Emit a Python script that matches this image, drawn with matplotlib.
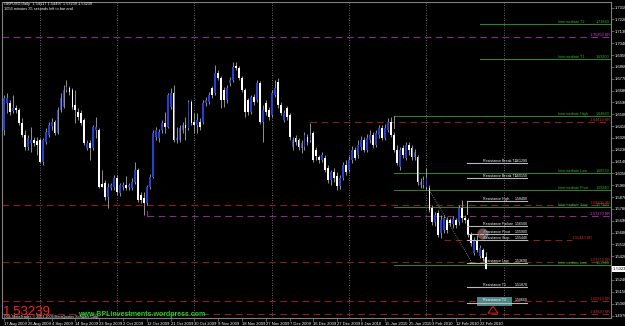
import matplotlib.pyplot as plt
import matplotlib.transforms as mtransforms
from matplotlib.patches import Rectangle, Ellipse
import numpy as np

plt.rcParams["font.family"] = ["Liberation Sans", "DejaVu Sans"]

# GBPUSD daily bars, 17 Aug 2009 -> 25 Feb 2010 (one bar every trading day incl. Sundays)
opens = [
    1.6380, 1.6585, 1.6585, 1.6524, 1.6547, 1.6532, 1.6433, 1.6342, 1.6251, 1.6281,
    1.6304, 1.6296, 1.6304, 1.6137, 1.6289, 1.6342, 1.6410, 1.6441, 1.6357, 1.6532,
    1.6555, 1.6684, 1.6699, 1.6684, 1.6570, 1.6517, 1.6509, 1.6456, 1.6243, 1.6281,
    1.6243, 1.6380, 1.6380, 1.5970, 1.5977, 1.5871, 1.5939, 1.5947, 1.6015, 1.5901,
    1.5947, 1.5962, 1.5947, 1.5939, 1.5985, 1.6076, 1.5886, 1.5863, 1.5825, 1.5947,
    1.6023, 1.6327, 1.6319, 1.6380, 1.6433, 1.6403, 1.6555, 1.6661, 1.6304, 1.6304,
    1.6380, 1.6418, 1.6395, 1.6593, 1.6441, 1.6418, 1.6441, 1.6441, 1.6585, 1.6593,
    1.6699, 1.6661, 1.6813, 1.6775, 1.6684, 1.6608, 1.6737, 1.6760, 1.6866, 1.6851,
    1.6775, 1.6684, 1.6608, 1.6517, 1.6631, 1.6608, 1.6737, 1.6441, 1.6585, 1.6532,
    1.6494, 1.6646, 1.6745, 1.6570, 1.6456, 1.6547, 1.6494, 1.6251, 1.6319, 1.6304,
    1.6243, 1.6251, 1.6327, 1.6304, 1.6357, 1.6228, 1.6175, 1.6152, 1.6167, 1.6091,
    1.6000, 1.6061, 1.6030, 1.5954, 1.6015, 1.6114, 1.6076, 1.6152, 1.6228, 1.6190,
    1.6251, 1.6304, 1.6228, 1.6304, 1.6342, 1.6266, 1.6342, 1.6395, 1.6319, 1.6380,
    1.6441, 1.6342, 1.6228, 1.6099, 1.6243, 1.6167, 1.6266, 1.6243, 1.6175,
    1.6175, 1.5962, 1.5962, 1.5947, 1.5939, 1.5787, 1.5681,
    1.5749, 1.5597, 1.5620, 1.5696, 1.5696, 1.5666,
    1.5696, 1.5681, 1.5787, 1.5711,
    1.5696, 1.5582, 1.5445, 1.5544, 1.5422, 1.5468, 1.54117,
]
highs = [
    1.6646, 1.6661, 1.6608, 1.6646, 1.6570, 1.6547, 1.6471, 1.6380, 1.6342, 1.6403,
    1.6327, 1.6327, 1.6319, 1.6319, 1.6395, 1.6441, 1.6471, 1.6456, 1.6555, 1.6661,
    1.6722, 1.6760, 1.6714, 1.6699, 1.6684, 1.6547, 1.6532, 1.6471, 1.6304, 1.6304,
    1.6418, 1.6479, 1.6395, 1.6076, 1.6000, 1.5977, 1.5977, 1.6038, 1.6038, 1.5977,
    1.5985, 1.6030, 1.5977, 1.6015, 1.6137, 1.6091, 1.5909, 1.5909, 1.5962, 1.6046,
    1.6380, 1.6403, 1.6388, 1.6456, 1.6517, 1.6661, 1.6699, 1.6722, 1.6403, 1.6418,
    1.6441, 1.6479, 1.6608, 1.6608, 1.6509, 1.6509, 1.6471, 1.6608, 1.6631, 1.6669,
    1.6714, 1.6874, 1.6836, 1.6790, 1.6707, 1.6722, 1.6783, 1.6897, 1.6897, 1.6866,
    1.6790, 1.6699, 1.6623, 1.6646, 1.6654, 1.6760, 1.6752, 1.6570, 1.6608, 1.6555,
    1.6684, 1.6760, 1.6775, 1.6593, 1.6532, 1.6562, 1.6509, 1.6327, 1.6342, 1.6319,
    1.6304, 1.6365, 1.6350, 1.6433, 1.6372, 1.6251, 1.6190, 1.6213, 1.6190, 1.6114,
    1.6076, 1.6091, 1.6061, 1.6038, 1.6137, 1.6152, 1.6182, 1.6258, 1.6251, 1.6304,
    1.6334, 1.6327, 1.6350, 1.6380, 1.6365, 1.6380, 1.6418, 1.6418, 1.6426, 1.6471,
    1.6479, 1.6365, 1.6266, 1.6251, 1.6266, 1.6289, 1.6289, 1.6266, 1.6236,
    1.6190, 1.6015, 1.6030, 1.6091, 1.5962, 1.5810, 1.5757,
    1.5772, 1.5734, 1.5734, 1.5719, 1.5711, 1.5727,
    1.5711, 1.5810, 1.5848, 1.5734,
    1.5711, 1.5605, 1.5567, 1.5582, 1.5506, 1.5483, 1.54497,
]
lows = [
    1.6342, 1.6509, 1.6494, 1.6509, 1.6509, 1.6418, 1.6327, 1.6228, 1.6228, 1.6213,
    1.6258, 1.6190, 1.6129, 1.6114, 1.6274, 1.6327, 1.6380, 1.6342, 1.6350, 1.6517,
    1.6547, 1.6669, 1.6646, 1.6540, 1.6433, 1.6456, 1.6418, 1.6266, 1.6228, 1.6152,
    1.6228, 1.6319, 1.5939, 1.5947, 1.5848, 1.5787, 1.5924, 1.5924, 1.5886, 1.5878,
    1.5924, 1.5924, 1.5924, 1.5924, 1.5970, 1.5833, 1.5825, 1.5734, 1.5810, 1.5932,
    1.6015, 1.6304, 1.6289, 1.6357, 1.6357, 1.6395, 1.6540, 1.6289, 1.6281, 1.6289,
    1.6357, 1.6304, 1.6380, 1.6418, 1.6357, 1.6357, 1.6380, 1.6426, 1.6562, 1.6577,
    1.6623, 1.6646, 1.6760, 1.6547, 1.6555, 1.6585, 1.6714, 1.6745, 1.6836, 1.6760,
    1.6669, 1.6479, 1.6494, 1.6502, 1.6570, 1.6593, 1.6426, 1.6289, 1.6494, 1.6456,
    1.6479, 1.6631, 1.6547, 1.6494, 1.6441, 1.6456, 1.6304, 1.6228, 1.6266, 1.6228,
    1.6205, 1.6228, 1.6266, 1.6289, 1.6137, 1.6152, 1.6129, 1.6137, 1.6061, 1.5977,
    1.5962, 1.5985, 1.5924, 1.5932, 1.6000, 1.6038, 1.6061, 1.6129, 1.6152, 1.6167,
    1.6228, 1.6213, 1.6213, 1.6281, 1.6243, 1.6251, 1.6319, 1.6304, 1.6304, 1.6365,
    1.6327, 1.6213, 1.6114, 1.6076, 1.6167, 1.6152, 1.6190, 1.6152, 1.6152,
    1.5962, 1.5939, 1.5939, 1.5924, 1.5757, 1.5658, 1.5650,
    1.5567, 1.5559, 1.5597, 1.5597, 1.5650, 1.5635,
    1.5635, 1.5658, 1.5681, 1.5673,
    1.5567, 1.5498, 1.5430, 1.5453, 1.5407, 1.5392, 1.53239,
]
closes = [
    1.6623, 1.6623, 1.6517, 1.6547, 1.6532, 1.6433, 1.6342, 1.6251, 1.6319, 1.6304,
    1.6281, 1.6266, 1.6137, 1.6304, 1.6365, 1.6418, 1.6441, 1.6357, 1.6532, 1.6623,
    1.6684, 1.6707, 1.6669, 1.6555, 1.6532, 1.6479, 1.6433, 1.6281, 1.6281, 1.6243,
    1.6403, 1.6403, 1.5947, 1.5950, 1.5871, 1.5947, 1.5962, 1.6015, 1.5909, 1.5962,
    1.5962, 1.5939, 1.5962, 1.5985, 1.6076, 1.5848, 1.5848, 1.5825, 1.5947, 1.6023,
    1.6357, 1.6380, 1.6365, 1.6433, 1.6403, 1.6646, 1.6661, 1.6304, 1.6319, 1.6395,
    1.6418, 1.6395, 1.6593, 1.6433, 1.6418, 1.6456, 1.6403, 1.6585, 1.6608, 1.6646,
    1.6646, 1.6813, 1.6775, 1.6608, 1.6608, 1.6699, 1.6760, 1.6859, 1.6851, 1.6775,
    1.6684, 1.6517, 1.6517, 1.6631, 1.6593, 1.6737, 1.6441, 1.6532, 1.6517, 1.6479,
    1.6661, 1.6699, 1.6570, 1.6509, 1.6509, 1.6479, 1.6327, 1.6304, 1.6289, 1.6251,
    1.6281, 1.6342, 1.6289, 1.6342, 1.6152, 1.6182, 1.6152, 1.6190, 1.6076, 1.6000,
    1.6061, 1.6015, 1.5954, 1.6015, 1.6114, 1.6061, 1.6152, 1.6228, 1.6167, 1.6266,
    1.6304, 1.6228, 1.6319, 1.6342, 1.6266, 1.6357, 1.6395, 1.6319, 1.6395, 1.6441,
    1.6342, 1.6228, 1.6129, 1.6228, 1.6190, 1.6266, 1.6228, 1.6175, 1.6213,
    1.5985, 1.5985, 1.6000, 1.6015, 1.5772, 1.5681, 1.5734,
    1.5582, 1.5696, 1.5711, 1.5620, 1.5673, 1.5704,
    1.5658, 1.5787, 1.5711, 1.5696,
    1.5582, 1.5521, 1.5544, 1.5468, 1.5483, 1.5407, 1.53239,
]

date_labels = [
    "17 Aug 2009", "26 Aug 2009", "4 Sep 2009", "14 Sep 2009", "23 Sep 2009",
    "2 Oct 2009", "12 Oct 2009", "21 Oct 2009", "30 Oct 2009", "9 Nov 2009",
    "18 Nov 2009", "27 Nov 2009", "7 Dec 2009", "16 Dec 2009", "27 Dec 2009",
    "6 Jan 2010", "15 Jan 2010", "25 Jan 2010", "3 Feb 2010", "12 Feb 2010",
    "22 Feb 2010",
]
price_ticks = [
    1.7310, 1.7220, 1.7130, 1.7040, 1.6950, 1.6860, 1.6770, 1.6680, 1.6590,
    1.6500, 1.6410, 1.6320, 1.6230, 1.6140, 1.6050, 1.5960, 1.5870, 1.5780,
    1.5690, 1.5600, 1.5510, 1.5420, 1.5240, 1.5150, 1.5060, 1.4970,
]

# support / resistance levels (dashed)
sr_levels = [1.7085, 1.6441, 1.5810, 1.5727, 1.5544, 1.5377, 1.5081, 1.4982]
sr_magenta = [True, False, False, True, False, False, False, False]
sr_start = [None, 103, None, 48, 148, None, None, None]

# intermediate levels (green)
inter_names = ["Intermediate T2", "Intermediate T1", "Intermediate High",
               "Intermediate Low", "Intermediate Pivot", "Intermediate Stop",
               "Intermediate Low"]
inter_levels = [1.7186, 1.6920, 1.6486, 1.6053, 1.5924, 1.5795, 1.5354]
inter_start = [160, 160, 131, 131, 131, 131, 131]

# resistance levels (short grey lines)
res_names = ["Resistance Break T2", "Resistance Break T1", "Resistance High",
             "Resistance Failure", "Resistance Pivot", "Resistance Stop",
             "Resistance Low", "Resistance T1", "Resistance T2"]
res_levels = [1.6129, 1.6015, 1.5840, 1.5650, 1.5590, 1.5544, 1.5369, 1.5187, 1.5066]

last_price = 1.53239

PX = 2.975  # pixels per bar


def bx(px):
    """pixel column -> bar index"""
    return (px - 4) / PX


o = np.array(opens)
h = np.array(highs)
l = np.array(lows)
c = np.array(closes)
x = np.arange(len(c))
up = c >= o

fig = plt.figure(figsize=(6.25, 3.26), dpi=100, facecolor="black")
ax = fig.add_axes([2 / 625, 8 / 326, 609 / 625, 316 / 326], facecolor="black")
ax.set_xlim(bx(2), bx(611))
ax.set_ylim(1.4951, 1.7353)

# grid
for g in [12, 38, 64, 90, 116, 142, 168]:
    ax.axvline(g, color="#8a8a8a", lw=0.6, ls=(0, (1, 2)), zorder=0)

# dashed S/R lines
xmin, xmax = ax.get_xlim()
for lvl, mag, st in zip(sr_levels, sr_magenta, sr_start):
    lc = "#8c2a8c" if mag else "#8b1e1e"
    tc = "#e040e0" if mag else "#e02828"
    x0 = xmin if st is None else st
    x1 = bx(572) if st == 148 else xmax
    ax.plot([x0, x1], [lvl, lvl], color=lc, lw=0.8, ls=(0, (6, 4)), zorder=1)
    tx = x1 if st == 148 else bx(610)
    ax.text(tx, lvl + 0.0003, f"{lvl:.5f} SR", color=tc, fontsize=2.7,
            ha="left" if st == 148 else "right", va="bottom", zorder=6)
ax.plot([48, 48], [1.5762, 1.5727], color="#8c2a8c", lw=0.8)

# intermediate (green) lines
for name, lvl, st in zip(inter_names, inter_levels, inter_start):
    ax.plot([st, xmax], [lvl, lvl], color="#2f7d2f", lw=0.8, zorder=1)
    ax.text(bx(558), lvl + 0.0003, name, color="#3aa83a", fontsize=2.7,
            ha="left", va="bottom", zorder=6)
    ax.text(bx(609), lvl + 0.0003, f"{lvl:.5f}", color="#3aa83a", fontsize=2.7,
            ha="right", va="bottom", zorder=6)
ax.plot([131, 131], [inter_levels[2], 1.6395], color="#909090", lw=0.7)

# candles
ax.vlines(x, l, h, color="#a8a8a8", lw=0.6, zorder=2)
body_lo = np.minimum(o, c)
body_h = np.maximum(np.abs(c - o), 0.0004)
ax.bar(x, body_h, bottom=body_lo, width=0.62,
       color=np.where(up, "#2540d0", "#ffffff"), linewidth=0, zorder=3)

# trend line
ax.plot([143, 157.5], [1.5924, 1.5362], color="#9a9a9a", lw=0.6,
        ls=(0, (1, 1.5)), zorder=4)

# resistance set
ax.add_patch(Rectangle((bx(477), 1.5043), bx(512) - bx(477), 0.0068,
                       facecolor="#4f8585", edgecolor="none", zorder=4))
for name, lvl in zip(res_names, res_levels):
    ax.plot([bx(467), bx(527)], [lvl, lvl], color="#b8b8b8", lw=0.8, zorder=5)
    ax.text(bx(483), lvl + 0.0003, name, color="white", fontsize=2.6,
            ha="left", va="bottom", zorder=6)
    ax.text(bx(515), lvl + 0.0003, f"{lvl:.5f}", color="white", fontsize=2.6,
            ha="left", va="bottom", zorder=6)
ax.plot([bx(467), bx(467)], [res_levels[2], 1.5745], color="#b8b8b8", lw=0.7)

# arrows
ax.add_patch(Ellipse((bx(483), 1.5590), 11 / PX, 0.0084,
                     facecolor="#3f7f7f", edgecolor="none", alpha=0.8, zorder=4))
ax.annotate("", xy=(bx(482), 1.5530), xytext=(bx(482), 1.5640),
            arrowprops=dict(arrowstyle="simple,head_width=0.6,head_length=0.5,tail_width=0.25",
                            fc="none", ec="#e02020", lw=0.6), zorder=7)
ax.annotate("", xy=(bx(493), 1.5062), xytext=(bx(493), 1.4968),
            arrowprops=dict(arrowstyle="simple,head_width=0.7,head_length=0.5,tail_width=0.3",
                            fc="none", ec="#e02020", lw=0.7), zorder=7)

# axes styling
for s in ax.spines.values():
    s.set_color("#808080")
    s.set_linewidth(0.8)
ax.yaxis.tick_right()
ax.set_yticks(price_ticks)
ax.set_yticklabels([f"{p:.5f}" for p in price_ticks])
ax.set_xticks(np.arange(0, 8 * len(date_labels), 8))
ax.set_xticklabels(date_labels, ha="left")
ax.tick_params(axis="both", color="#808080", labelcolor="white", labelsize=3,
               length=2, width=0.5, pad=1)

trans = mtransforms.blended_transform_factory(ax.transAxes, ax.transData)
ax.text(1.003, last_price, "1.53239 ", transform=trans, color="black", fontsize=3,
        ha="left", va="center", clip_on=False, zorder=8,
        bbox=dict(facecolor="white", edgecolor="none", pad=0.6))

# header & footer texts
fig.text(4 / 625, 1 - 4 / 326,
         "GBPUSD,Daily  1.54117 1.54497 1.53239 1.53239",
         color="white", fontsize=2.8, va="center")
fig.text(4 / 625, 1 - 9.5 / 326,
         "1056 minutes 35 seconds left to bar end",
         color="white", fontsize=2.8, va="center")
fig.text(3 / 625, 1 - 315 / 326, "1.53239", color="#ff2020", fontsize=9.5,
         va="baseline")
fig.text(78 / 625, 1 - 315.5 / 326, "www.BPLinvestments.wordpress.com",
         color="#22d022", fontsize=5.0, fontweight="bold", va="baseline")
fig.text(4 / 625, 1 - 318 / 326,
         "OGL MetaTrader, \u00a9 2001-2009 MetaQuotes Software Corp.",
         color="white", fontsize=2.6, va="baseline")

fig.savefig("out.png", dpi=100, facecolor="black")
